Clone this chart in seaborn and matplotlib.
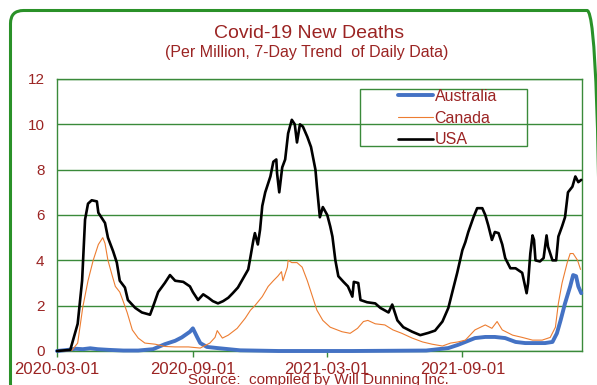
import matplotlib
matplotlib.use("Agg")
import matplotlib.pyplot as plt
from matplotlib.patches import FancyBboxPatch, Rectangle
from matplotlib.transforms import IdentityTransform
import numpy as np
import pandas as pd
import seaborn as sns

# ---------------- data (days since 2020-03-01, per-million values) ----------------
start_date = "2020-03-01"

usa_day = [0, 18, 28, 34, 38, 42, 47, 54, 56, 65, 69, 76, 81, 85, 92, 96, 106, 115, 126, 130,
           137, 146, 153, 160, 171, 180, 184, 191, 198, 205, 211, 218, 225, 232, 238, 245, 252,
           259, 262, 266, 268, 272, 275, 278, 282, 289, 293, 297, 298, 301, 305, 309, 313, 318,
           322, 325, 329, 333, 339, 344, 350, 352, 356, 360, 366, 370, 373, 377, 381, 388, 394,
           400, 402, 408, 411, 420, 431, 438, 449, 454, 461, 469, 481, 492, 503, 512, 522, 530,
           535, 542, 549, 553, 557, 564, 569, 576, 580, 584, 589, 593, 598, 603, 607, 614, 621,
           630, 636, 638, 641, 644, 646, 648, 654, 659, 663, 665, 671, 676, 679, 684, 688, 692,
           698, 702, 706, 710]
usa_val = [0, 0.05, 1.2, 3.1, 5.8, 6.5, 6.65, 6.6, 6.1, 5.65, 5.0, 4.4, 3.9, 3.1, 2.8, 2.25, 1.9,
           1.7, 1.6, 1.95, 2.6, 3.0, 3.35, 3.1, 3.05, 2.85, 2.6, 2.25, 2.5, 2.35, 2.2, 2.1, 2.2,
           2.35, 2.55, 2.8, 3.2, 3.6, 4.15, 4.9, 5.2, 4.7, 5.35, 6.4, 7.0, 7.7, 8.35, 8.45, 7.85,
           7.0, 8.1, 8.45, 9.6, 10.2, 10.0, 9.2, 10.0, 9.9, 9.45, 9.0, 8.0, 7.25, 5.9, 6.35, 6.0,
           5.5, 5.05, 4.0, 3.3, 3.05, 2.85, 2.4, 3.05, 3.0, 2.25, 2.15, 2.1, 1.9, 1.7, 2.05, 1.35,
           1.05, 0.85, 0.7, 0.8, 0.9, 1.3, 1.9, 2.55, 3.45, 4.45, 4.8, 5.25, 5.9, 6.3, 6.3, 6.0,
           5.55, 4.9, 5.25, 5.2, 4.7, 4.1, 3.65, 3.65, 3.45, 2.55, 3.0, 4.3, 5.1, 4.9, 4.0, 3.95,
           4.1, 5.1, 4.6, 4.0, 4.0, 5.05, 5.5, 5.9, 7.0, 7.25, 7.7, 7.45, 7.55]

can_day = [0, 20, 28, 35, 42, 49, 56, 62, 65, 69, 75, 79, 85, 89, 95, 102, 110, 119, 133, 146,
           160, 178, 194, 207, 214, 217, 218, 224, 232, 244, 255, 262, 268, 278, 286, 293, 299,
           304, 306, 312, 313, 318, 325, 332, 339, 346, 352, 360, 370, 386, 397, 407, 415, 421,
           431, 444, 455, 467, 481, 495, 508, 522, 533, 543, 553, 566, 580, 589, 596, 603, 617,
           630, 644, 657, 668, 675, 679, 684, 691, 695, 699, 705, 709]
can_val = [0, 0.02, 0.35, 1.95, 3.1, 4.0, 4.7, 5.0, 4.75, 4.0, 3.3, 2.85, 2.6, 2.25, 1.7, 0.93,
           0.57, 0.35, 0.3, 0.2, 0.18, 0.18, 0.13, 0.35, 0.6, 0.9, 0.85, 0.57, 0.7, 1.0, 1.45, 1.8,
           2.0, 2.4, 2.85, 3.1, 3.3, 3.5, 3.1, 3.7, 4.0, 3.9, 3.9, 3.7, 3.1, 2.4, 1.8, 1.35, 1.05,
           0.85, 0.78, 1.0, 1.3, 1.35, 1.2, 1.15, 0.93, 0.78, 0.57, 0.4, 0.3, 0.22, 0.35, 0.4,
           0.48, 0.93, 1.15, 1.0, 1.3, 0.93, 0.7, 0.6, 0.48, 0.48, 0.6, 1.05, 2.1, 3.0, 3.9, 4.3,
           4.3, 4.0, 3.6]

aus_day = [0, 15, 25, 35, 45, 55, 70, 90, 110, 130, 146, 160, 169, 180, 184, 190, 194, 203, 217,
           248, 300, 400, 500, 530, 543, 553, 566, 580, 593, 607, 621, 634, 648, 661, 671, 677,
           682, 688, 695, 699, 703, 706, 710]
aus_val = [0, 0.05, 0.1, 0.08, 0.12, 0.08, 0.05, 0.02, 0.02, 0.08, 0.3, 0.45, 0.6, 0.85, 1.0,
           0.6, 0.35, 0.18, 0.13, 0.03, 0.0, 0.0, 0.02, 0.13, 0.27, 0.4, 0.57, 0.62, 0.62, 0.57,
           0.4, 0.35, 0.35, 0.35, 0.4, 0.78, 1.35, 2.1, 2.85, 3.35, 3.3, 2.85, 2.55]

series_names = ["Australia", "Canada", "USA"]
xtick_labels = ["2020-03-01", "2020-09-01", "2021-03-01", "2021-09-01"]
ytick_values = [0, 2, 4, 6, 8, 10, 12]
title = "Covid-19 New Deaths"
subtitle = "(Per Million, 7-Day Trend  of Daily Data)"
source = "Source:  compiled by Will Dunning Inc."

# ---------------- styling ----------------
RED = "#9b2423"
GREEN = "#3a8a3a"
BORDER = "#2a9128"
colors = {"Australia": "#4472c4", "Canada": "#ed7d31", "USA": "#000000"}
widths = {"Australia": 2.8, "Canada": 0.8, "USA": 1.9}

sns.set_style("white")
plt.rcParams["font.family"] = ["Liberation Sans", "DejaVu Sans"]

W, H = 597, 385
fig = plt.figure(figsize=(W / 100, H / 100), dpi=100)
ax = fig.add_axes([57 / W, 1 - 351 / H, (582 - 57) / W, (351 - 79) / H])

t0 = pd.Timestamp(start_date)
frames = []
for name, d, v in [("Australia", aus_day, aus_val), ("Canada", can_day, can_val), ("USA", usa_day, usa_val)]:
    frames.append(pd.DataFrame({"date": t0 + pd.to_timedelta(d, unit="D"), "value": v, "country": name}))
df = pd.concat(frames, ignore_index=True)

for name in series_names:
    sub = df[df["country"] == name]
    sns.lineplot(data=sub, x="date", y="value", ax=ax, color=colors[name],
                 linewidth=widths[name], label=name, clip_on=False, zorder=3,
                 solid_joinstyle="round")

# axes
ax.set_xlim(t0, t0 + pd.Timedelta(days=711))
ax.set_ylim(0, 12)
ax.set_yticks(ytick_values)
ax.set_yticklabels([str(v) for v in ytick_values])
xt = [pd.Timestamp(s) for s in xtick_labels]
ax.set_xticks(xt)
ax.set_xticklabels(xtick_labels)
ax.set_xlabel("")
ax.set_ylabel("")
ax.grid(axis="y", color=GREEN, linewidth=1.0, zorder=1)
ax.grid(axis="x", visible=False)
ax.set_axisbelow(True)
for s in ax.spines.values():
    s.set_color(GREEN)
    s.set_linewidth(1.0)
ax.tick_params(axis="x", colors=GREEN, direction="out", length=4, width=1, pad=4,
               labelsize=12, labelcolor=RED, bottom=True)
ax.tick_params(axis="y", length=0, pad=9, labelsize=11, labelcolor=RED)

# legend: transparent box drawn separately
leg = ax.legend(loc="upper left", bbox_to_anchor=((398 - 57) / 525, (351 - 89) / 272),
                frameon=False, borderpad=0, borderaxespad=0, handlelength=2.2,
                handletextpad=0.1, labelspacing=0.42, fontsize=11.5)
for t in leg.get_texts():
    t.set_color(RED)
ax.add_patch(Rectangle(((360 - 57) / 525, (351 - 146) / 272), (527 - 360) / 525, (146 - 89) / 272,
                       transform=ax.transAxes, fill=False, edgecolor=GREEN, linewidth=1.0,
                       zorder=5, clip_on=False))

# titles and source
fig.text(309 / W, 1 - 33 / H, title, ha="center", va="center", fontsize=14, color=RED)
fig.text(307 / W, 1 - 52 / H, subtitle, ha="center", va="center", fontsize=11.5, color=RED)
fig.text(318 / W, 1 - 373 / H, source, ha="center", va="top", fontsize=11, color=RED)

# rounded green border (pixel coordinates, origin bottom-left)
border = FancyBboxPatch((10.5, -12), 600 - 10.5, (H - 10.5) + 12,
                        boxstyle="round,pad=0,rounding_size=13", transform=IdentityTransform(),
                        fill=False, edgecolor=BORDER, linewidth=2.2, clip_on=False)
fig.patches.append(border)

fig.savefig("out.png", dpi=100)
